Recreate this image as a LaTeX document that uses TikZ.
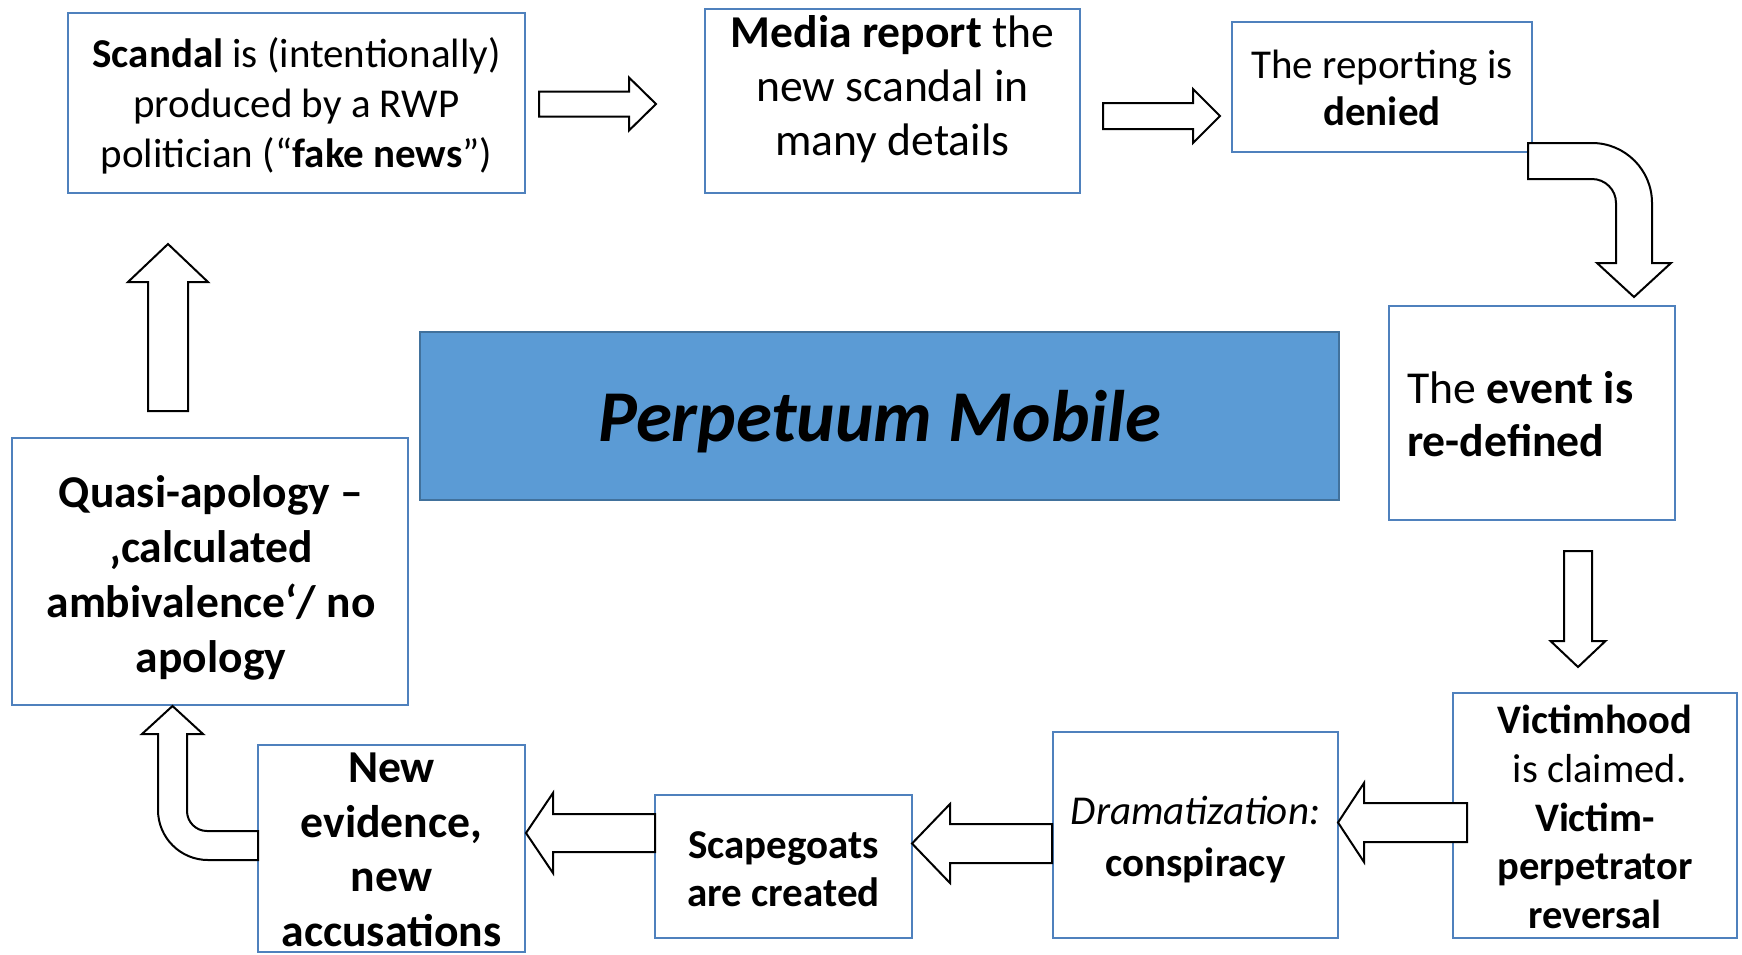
\documentclass[tikz,border=0pt]{standalone}
\usepackage{fontspec}
\setmainfont{Carlito}
\usetikzlibrary{calc}
\definecolor{boxblue}{RGB}{79,129,189}
\definecolor{centerfill}{RGB}{91,155,213}
\definecolor{centerdraw}{RGB}{65,113,156}
\newcommand\fsz[2]{\fontsize{#1}{#2}\selectfont}
\begin{document}
\begin{tikzpicture}[x=1pt,y=-1pt,
  stepbox/.style={draw=boxblue, line width=2.2pt, fill=white, inner sep=0pt},
  centerbox/.style={draw=centerdraw, line width=2.5pt, fill=centerfill, inner sep=0pt},
  txt/.style={align=center, inner sep=0pt, text=black},
  barrow/.style={draw=black, line width=2pt, fill=white, line join=miter}]
\fill[white] (0,0) rectangle (1742,954);
\useasboundingbox (0,0) rectangle (1742,954);

% boxes
\node[stepbox, minimum width=457, minimum height=180] (scandal) at (296.5,103) {};
\node[stepbox, minimum width=375, minimum height=184] (media) at (892.5,101) {};
\node[stepbox, minimum width=300, minimum height=130] (report) at (1382,87) {};
\node[stepbox, minimum width=286, minimum height=214] (event) at (1532,413) {};
\node[stepbox, minimum width=284, minimum height=245] (victim) at (1595,815.5) {};
\node[stepbox, minimum width=285, minimum height=206] (drama) at (1195.5,835) {};
\node[stepbox, minimum width=257, minimum height=143] (scape) at (783.5,866.5) {};
\node[stepbox, minimum width=267, minimum height=207] (newev) at (391.5,848.5) {};
\node[stepbox, minimum width=396, minimum height=267] (quasi) at (210,571.5) {};
\node[centerbox, minimum width=919, minimum height=168] (center) at (879.5,416) {};

% texts
\node[txt, font=\fsz{41}{50}] (scandal-t) at (296.5,106) {\textbf{Scandal} is (intentionally)\\produced by a RWP\\politician (“\textbf{fake news}”)};
\node[txt, font=\fsz{45.6}{54}] (media-t) at (892.5,89.5) {\textbf{Media report} the\\new scandal in\\many details};
\node[txt, font=\fsz{41}{47}] (report-t) at (1382,88) {The reporting is\\\textbf{denied}};
\node[txt, align=left, anchor=west, font=\fsz{45.7}{53}] (event-t) at (1407,414.5) {The \textbf{event is}\\\textbf{re-defined}};
\node[txt, font=\fsz{40.5}{48.6}] (victim-t) at (1595,817) {\textbf{Victimhood}\\\ is claimed.\\\textbf{Victim-}\\\textbf{perpetrator}\\\textbf{reversal}};
\node[txt, font=\fsz{41}{52}] (drama-t) at (1195.5,840) {\textit{Dramatization:}\\\textbf{conspiracy}};
\node[txt, font=\fsz{41}{48}\bfseries] (scape-t) at (783.5,869) {Scapegoats\\are created};
\node[txt, font=\fsz{45.7}{54.5}\bfseries] (newev-t) at (391.5,850) {New\\evidence,\\new\\accusations};
\node[txt, font=\fsz{45.5}{55}\bfseries] (quasi-t) at (211,577.5) {Quasi-apology –\\‚calculated\\ambivalence‘/ no\\apology};
\node[txt, font=\fsz{73}{80}\bfseries\itshape] (center-t) at (880,421.5) {Perpetuum Mobile};

% block arrows
% scandal -> media
\draw[barrow] (539,91.5) -- (629,91.5) -- (629,77.5) -- (656,104) -- (629,130.5) -- (629,116.5) -- (539,116.5) -- cycle;
% media -> report
\draw[barrow] (1103,103) -- (1193,103) -- (1193,89) -- (1220,116) -- (1193,143) -- (1193,129) -- (1103,129) -- cycle;
% report -> event (bent)
\draw[barrow] (1528,143) -- (1592,143) arc[start angle=270,end angle=360,radius=60]
  -- (1652,263) -- (1671,263) -- (1634,297) -- (1597,263) -- (1616,263) -- (1616,203)
  arc[start angle=360,end angle=270,radius=24] -- (1528,179) -- cycle;
% event -> victim
\draw[barrow] (1564,551) -- (1592,551) -- (1592,641) -- (1605.5,641) -- (1578,667) -- (1550.5,641) -- (1564,641) -- cycle;
% victim -> drama
\draw[barrow] (1467,803) -- (1364,803) -- (1364,783) -- (1338,822.5) -- (1364,862) -- (1364,842) -- (1467,842) -- cycle;
% drama -> scape
\draw[barrow] (1052,824) -- (950,824) -- (950,804) -- (912,843.5) -- (950,883) -- (950,863) -- (1052,863) -- cycle;
% scape -> newev
\draw[barrow] (655,814) -- (553,814) -- (553,793) -- (526,833) -- (553,873) -- (553,852) -- (655,852) -- cycle;
% newev -> quasi (bent)
\draw[barrow] (258,860) -- (208,860) arc[start angle=90,end angle=180,radius=50]
  -- (158,734) -- (142,734) -- (172.5,706) -- (203,734) -- (187,734) -- (187,811)
  arc[start angle=180,end angle=90,radius=20] -- (258,831) -- cycle;
% quasi -> scandal
\draw[barrow] (148,411) -- (148,282) -- (128,282) -- (168,244) -- (208,282) -- (188,282) -- (188,411) -- cycle;
\end{tikzpicture}
\end{document}
